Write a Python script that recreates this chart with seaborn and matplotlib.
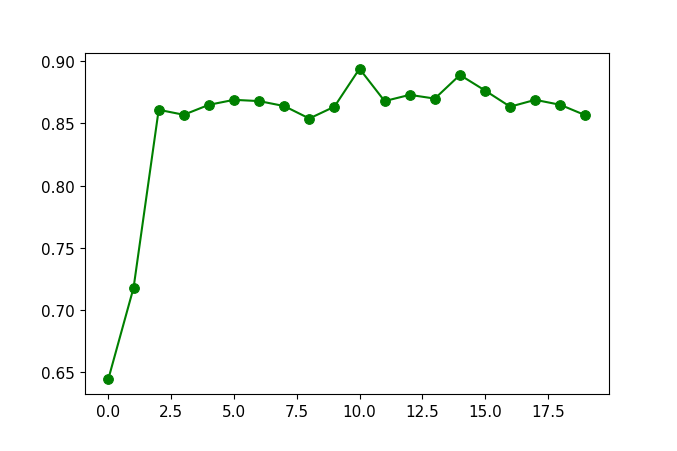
import numpy as np
import pandas as pd
import matplotlib
matplotlib.use("Agg")
import matplotlib.pyplot as plt
import seaborn as sns

# values
steps = list(range(20))
scores = [0.645, 0.718, 0.861, 0.857, 0.865, 0.869, 0.868, 0.864, 0.854, 0.8635,
          0.894, 0.868, 0.873, 0.870, 0.889, 0.8765, 0.8635, 0.869, 0.865, 0.8566]

df = pd.DataFrame({"step": steps, "score": scores})

plt.rcParams["xtick.labelsize"] = 11
plt.rcParams["ytick.labelsize"] = 11

fig, ax = plt.subplots(figsize=(6.77, 4.52), dpi=100)
fig.subplots_adjust(left=0.125, right=0.9, top=0.88, bottom=0.126)

sns.lineplot(data=df, x="step", y="score", color="green", marker="o",
             markersize=7, markeredgecolor="green", linewidth=1.5, ax=ax)

ax.set_xlabel("")
ax.set_ylabel("")
ax.set_yticks([0.65, 0.70, 0.75, 0.80, 0.85, 0.90])

fig.savefig("out.png", dpi=100)
plt.close(fig)
